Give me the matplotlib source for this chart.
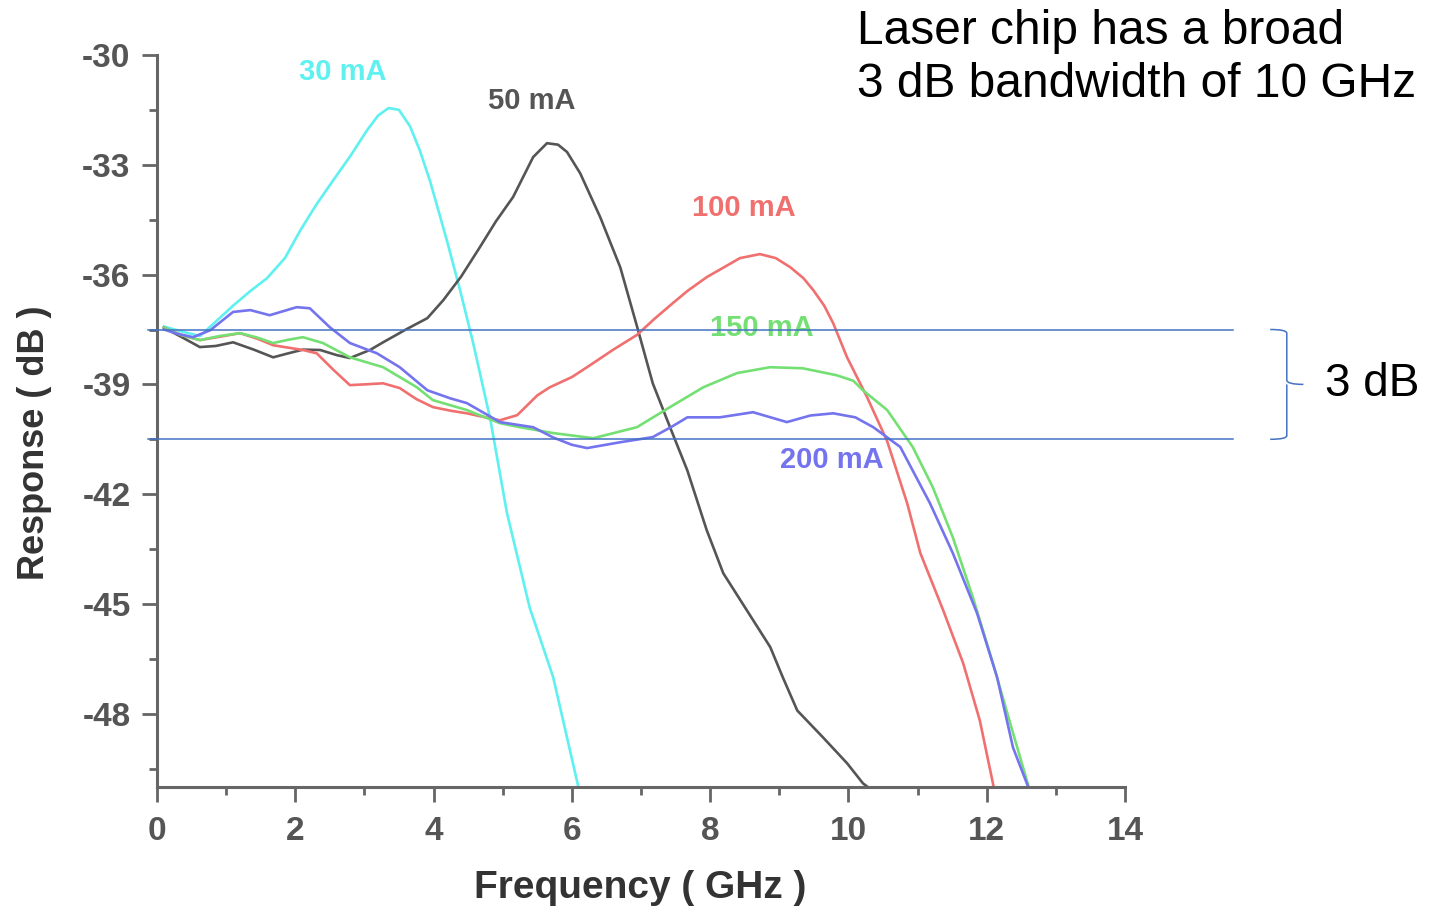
import matplotlib
matplotlib.use("Agg")
import matplotlib.pyplot as plt
from matplotlib.path import Path
from matplotlib.patches import PathPatch

plt.rcParams['font.family'] = ['Liberation Sans', 'DejaVu Sans']

# ---- data ----
x_30 = [0.10, 0.35, 0.62, 0.87, 1.10, 1.35, 1.59, 1.85, 2.07, 2.30, 2.55, 2.80, 3.04, 3.20, 3.35,
        3.50, 3.66, 3.80, 3.95, 4.19, 4.38, 4.57, 4.82, 5.06, 5.39, 5.73, 6.07, 6.12]
y_30 = [-37.42, -37.55, -37.68, -37.25, -36.85, -36.45, -36.10, -35.55, -34.80, -34.10, -33.42,
        -32.75, -32.05, -31.65, -31.45, -31.50, -31.95, -32.60, -33.45, -35.05, -36.40, -37.85,
        -39.95, -42.50, -45.10, -47.00, -49.80, -50.20]

x_50 = [0.10, 0.35, 0.62, 0.85, 1.10, 1.40, 1.68, 1.90, 2.11, 2.36, 2.60, 2.79, 3.08, 3.27, 3.60,
        3.91, 4.14, 4.40, 4.67, 4.90, 5.15, 5.44, 5.64, 5.80, 5.93, 6.12, 6.41, 6.70, 6.94, 7.17,
        7.42, 7.67, 7.95, 8.19, 8.53, 8.87, 9.05, 9.26, 9.63, 9.98, 10.21, 10.35]
y_50 = [-37.45, -37.70, -37.98, -37.95, -37.85, -38.05, -38.26, -38.15, -38.05, -38.06, -38.20,
        -38.28, -38.06, -37.85, -37.50, -37.19, -36.70, -36.05, -35.25, -34.55, -33.88, -32.79,
        -32.41, -32.45, -32.65, -33.23, -34.43, -35.80, -37.40, -38.97, -40.17, -41.35, -42.98,
        -44.16, -45.17, -46.18, -47.00, -47.91, -48.64, -49.35, -49.90, -50.10]

x_100 = [0.10, 0.35, 0.62, 0.90, 1.20, 1.45, 1.68, 2.11, 2.31, 2.55, 2.79, 3.00, 3.27, 3.51, 3.75,
         3.99, 4.25, 4.48, 4.75, 4.96, 5.21, 5.50, 5.68, 6.00, 6.22, 6.60, 6.94, 7.20, 7.46, 7.67,
         7.95, 8.20, 8.43, 8.72, 8.95, 9.16, 9.35, 9.49, 9.65, 9.78, 9.98, 10.27, 10.56, 10.85,
         11.04, 11.37, 11.66, 11.90, 12.09, 12.12]
y_100 = [-37.45, -37.65, -37.79, -37.70, -37.60, -37.75, -37.93, -38.06, -38.15, -38.60, -39.02,
         -39.00, -38.97, -39.10, -39.40, -39.62, -39.72, -39.79, -39.90, -39.98, -39.84, -39.30,
         -39.08, -38.80, -38.53, -38.05, -37.65, -37.20, -36.78, -36.45, -36.07, -35.80, -35.55,
         -35.44, -35.55, -35.80, -36.10, -36.42, -36.85, -37.33, -38.26, -39.35, -40.55, -42.25,
         -43.61, -45.17, -46.62, -48.18, -49.90, -50.20]

x_150 = [0.10, 0.35, 0.62, 0.90, 1.20, 1.45, 1.68, 1.90, 2.11, 2.40, 2.79, 3.27, 3.76, 3.99, 4.48,
         4.96, 5.25, 5.73, 6.31, 6.94, 7.42, 7.90, 8.39, 8.87, 9.34, 9.83, 10.07, 10.21, 10.56,
         10.93, 11.22, 11.51, 11.80, 12.09, 12.34, 12.58, 12.62]
y_150 = [-37.45, -37.65, -37.79, -37.68, -37.60, -37.72, -37.87, -37.78, -37.71, -37.87, -38.26,
         -38.53, -39.08, -39.43, -39.70, -40.06, -40.17, -40.33, -40.47, -40.17, -39.62, -39.08,
         -38.69, -38.53, -38.56, -38.75, -38.90, -39.16, -39.70, -40.71, -41.81, -43.18, -44.82,
         -46.62, -48.26, -49.82, -50.10]

x_200 = [0.10, 0.30, 0.52, 0.77, 1.10, 1.35, 1.63, 2.02, 2.21, 2.50, 2.79, 3.18, 3.51, 3.91, 4.24,
         4.48, 4.96, 5.44, 5.73, 6.00, 6.22, 6.70, 7.17, 7.45, 7.67, 8.14, 8.62, 9.11, 9.45, 9.78,
         10.10, 10.36, 10.75, 11.18, 11.51, 11.86, 12.15, 12.38, 12.58, 12.62]
y_200 = [-37.50, -37.62, -37.71, -37.52, -37.02, -36.97, -37.11, -36.89, -36.92, -37.44, -37.87,
         -38.15, -38.53, -39.16, -39.38, -39.51, -40.03, -40.17, -40.45, -40.65, -40.74, -40.58,
         -40.44, -40.15, -39.90, -39.90, -39.76, -40.03, -39.85, -39.79, -39.90, -40.17, -40.71,
         -42.25, -43.61, -45.25, -47.00, -48.92, -49.90, -50.10]

series_labels = ["30 mA", "50 mA", "100 mA", "150 mA", "200 mA"]
label_x = [2.68, 5.42, 8.48, 8.75, 9.76]
label_y = [-30.46, -31.26, -34.18, -37.46, -41.07]

bw_top, bw_bottom = -37.5, -40.5
x_ticks = [0, 2, 4, 6, 8, 10, 12, 14]
y_ticks = [-30, -33, -36, -39, -42, -45, -48]

colors = ["#5ff0f0", "#555555", "#f07070", "#74e074", "#7474ee"]
xs = [x_30, x_50, x_100, x_150, x_200]
ys = [y_30, y_50, y_100, y_150, y_200]

# ---- figure ----
W, H = 1437, 910
fig = plt.figure(figsize=(W / 100, H / 100), dpi=100)
ax = fig.add_axes([157 / W, 1 - 787 / H, (1125 - 157) / W, (787 - 55) / H])
ax.set_xlim(0, 14)
ax.set_ylim(-50, -30)

for x, y, c in zip(xs, ys, colors):
    ax.plot(x, y, color=c, lw=1.9, solid_joinstyle='round')

for lab, lx, ly, c in zip(series_labels, label_x, label_y, colors):
    ax.text(lx, ly, lab, color=c, fontsize=21, fontweight='bold', ha='center', va='center')

# 3 dB lines
blue = "#4472c4"
for yv in (bw_top, bw_bottom):
    ax.plot([-0.13, 15.56], [yv, yv], color=blue, lw=1.1, clip_on=False, zorder=4)

# brace
bx0, bx1, bx2 = 16.10, 16.34, 16.58
ymid = (bw_top + bw_bottom) / 2
verts = [(bx0, bw_top), (bx1, bw_top), (bx1, bw_top - 0.1),
         (bx1, ymid + 0.12), (bx1, ymid), (bx2, ymid),
         (bx1, ymid), (bx1, ymid - 0.12),
         (bx1, bw_bottom + 0.1), (bx1, bw_bottom), (bx0, bw_bottom)]
codes = [Path.MOVETO, Path.CURVE3, Path.CURVE3,
         Path.LINETO, Path.CURVE3, Path.CURVE3,
         Path.MOVETO, Path.LINETO,
         Path.LINETO, Path.CURVE3, Path.CURVE3]
ax.add_patch(PathPatch(Path(verts, codes), fill=False, edgecolor=blue, lw=1.1, clip_on=False))
ax.text(16.89, ymid, "3 dB", fontsize=33, ha='left', va='center', color='black', clip_on=False)

# axes styling
for s in ('top', 'right'):
    ax.spines[s].set_visible(False)
for s in ('left', 'bottom'):
    ax.spines[s].set_color('#666666')
    ax.spines[s].set_linewidth(2.2)
ax.set_xticks(x_ticks)
ax.set_yticks(y_ticks)
ax.set_xticks([1, 3, 5, 7, 9, 11, 13], minor=True)
ax.set_yticks([-31.5, -34.5, -37.5, -40.5, -43.5, -46.5, -49.5], minor=True)
ax.set_yticklabels([str(v) for v in y_ticks])
ax.tick_params(which='major', length=11, width=2, color='#666666', labelsize=24,
               labelcolor='#555555', direction='out')
ax.tick_params(which='minor', length=6, width=2, color='#666666', direction='out')
ax.tick_params(axis='y', pad=8)
ax.tick_params(axis='x', pad=10)
for lbl in ax.get_xticklabels() + ax.get_yticklabels():
    lbl.set_fontweight('bold')

fig.text(35 / W, 1 - 443 / H, "Response ( dB )", rotation=90, ha='center', va='center',
         fontsize=26, fontweight='bold', color='#333333')
fig.text(640 / W, 1 - 888 / H, "Frequency ( GHz )", ha='center', va='center',
         fontsize=28, fontweight='bold', color='#333333')

fig.text(857 / W, 1 - 9 / H, "Laser chip has a broad\n3 dB bandwidth of 10 GHz",
         ha='left', va='top', fontsize=34.5, color='black', linespacing=1.22)

fig.savefig("out.png", dpi=100)
